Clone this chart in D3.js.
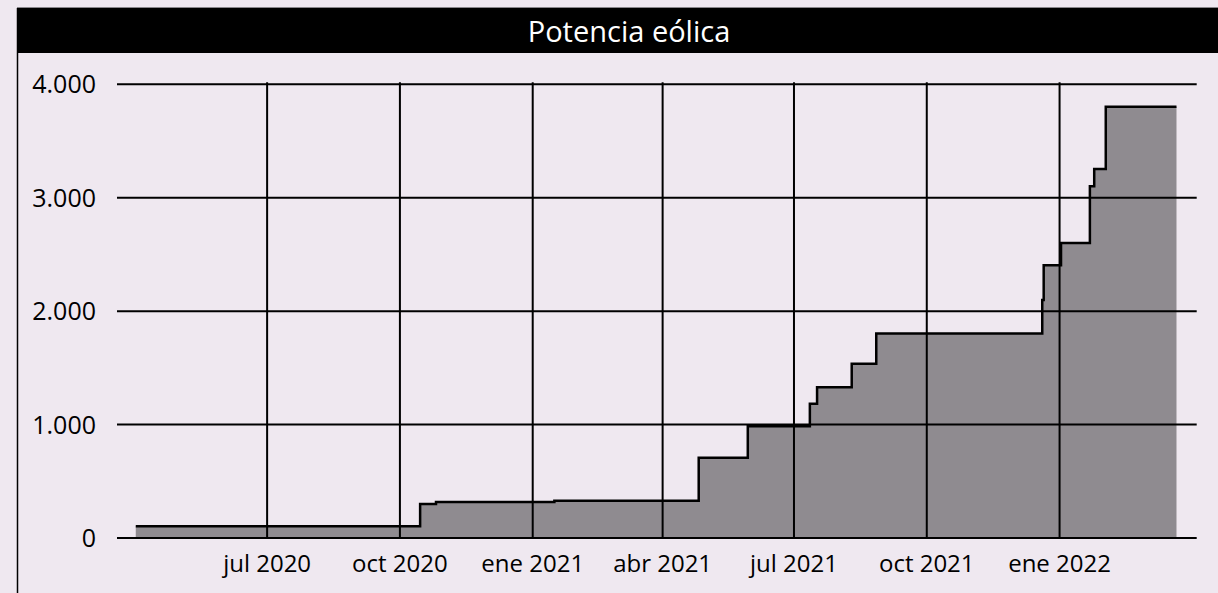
<!DOCTYPE html>
<html>
<head>
<meta charset="utf-8">
<script src="https://cdn.jsdelivr.net/npm/d3@7"></script>
<style>
  body { margin: 0; background: #efe8f0; }
  svg { display: block; }
  text { font-family: "Open Sans", sans-serif; fill: #000; }
</style>
</head>
<body>
<script>
'use strict';

// step dates (start of each level) and the installed power (MW)
var stepDates = ["2020-04-01", "2020-10-15", "2020-10-26", "2021-01-16", "2021-04-26",
  "2021-05-30", "2021-07-12", "2021-07-17", "2021-08-10", "2021-08-27", "2021-12-20",
  "2021-12-21", "2022-01-02", "2022-01-22", "2022-01-25", "2022-02-02", "2022-03-23"];
var stepValues = [104, 300, 317, 329, 708, 985, 1184, 1329, 1537, 1802, 2099,
  2405, 2601, 3101, 3254, 3803, 3803];

var xTickDates = ["2020-07-01", "2020-10-01", "2021-01-01", "2021-04-01",
  "2021-07-01", "2021-10-01", "2022-01-01"];
var xTickLabels = ["jul 2020", "oct 2020", "ene 2021", "abr 2021", "jul 2021", "oct 2021", "ene 2022"];
var yTicks = [0, 1000, 2000, 3000, 4000];
var yTickLabels = ["0", "1.000", "2.000", "3.000", "4.000"];
var xDomain = ["2020-03-19", "2022-04-06"];
var title = "Potencia eólica";

var W = 1218, H = 593;
var parse = d3.utcParse("%Y-%m-%d");

var data = stepDates.map(function(d, i) { return {date: parse(d), value: stepValues[i]}; });

var x = d3.scaleUtc().domain(xDomain.map(parse)).range([117, 1196.7]);
var y = d3.scaleLinear().domain([0, 4000]).range([538, 84.3]);

var svg = d3.select("body").append("svg")
    .attr("width", W)
    .attr("height", H);

// frame + title bar
svg.append("line")
    .attr("x1", 17.5).attr("x2", 17.5)
    .attr("y1", 8).attr("y2", H)
    .attr("stroke", "#000").attr("stroke-width", 1.5);
svg.append("rect")
    .attr("x", 17).attr("y", 8)
    .attr("width", W - 17).attr("height", 45)
    .attr("fill", "#000");
svg.append("line")
    .attr("x1", 17).attr("x2", W)
    .attr("y1", 7.5).attr("y2", 7.5)
    .attr("stroke", "#8a878c").attr("stroke-width", 1);
svg.append("text")
    .attr("x", 629)
    .attr("y", 32)
    .attr("dy", "0.35em")
    .style("text-anchor", "middle")
    .style("font-size", "29px")
    .style("fill", "#fff")
    .text(title);

// area
var area = d3.area()
    .curve(d3.curveStepAfter)
    .x(function(d) { return x(d.date); })
    .y0(y(0))
    .y1(function(d) { return y(d.value); });

svg.append("path")
    .datum(data)
    .attr("d", area)
    .attr("fill", "#8f8b90");

// grid
svg.selectAll(".hgrid")
    .data(yTicks)
  .enter().append("line")
    .attr("class", "hgrid")
    .attr("x1", x.range()[0]).attr("x2", x.range()[1])
    .attr("y1", function(d) { return y(d); })
    .attr("y2", function(d) { return y(d); })
    .attr("stroke", "#000").attr("stroke-width", 2);

svg.selectAll(".vgrid")
    .data(xTickDates)
  .enter().append("line")
    .attr("class", "vgrid")
    .attr("x1", function(d) { return x(parse(d)); })
    .attr("x2", function(d) { return x(parse(d)); })
    .attr("y1", y(4000) - 2).attr("y2", y(0))
    .attr("stroke", "#000").attr("stroke-width", 2);

// step line
var line = d3.line()
    .curve(d3.curveStepAfter)
    .x(function(d) { return x(d.date); })
    .y(function(d) { return y(d.value); });

svg.append("path")
    .datum(data)
    .attr("d", line)
    .attr("fill", "none")
    .attr("stroke", "#000")
    .attr("stroke-width", 2.5);

// labels
svg.selectAll(".ylab")
    .data(yTicks)
  .enter().append("text")
    .attr("class", "ylab")
    .attr("x", 96)
    .attr("y", function(d) { return y(d); })
    .attr("dy", "0.36em")
    .style("text-anchor", "end")
    .style("font-size", "25px")
    .text(function(d, i) { return yTickLabels[i]; });

svg.selectAll(".xlab")
    .data(xTickDates)
  .enter().append("text")
    .attr("class", "xlab")
    .attr("x", function(d) { return x(parse(d)); })
    .attr("y", 572)
    .style("text-anchor", "middle")
    .style("font-size", "24px")
    .text(function(d, i) { return xTickLabels[i]; });
</script>
</body>
</html>
